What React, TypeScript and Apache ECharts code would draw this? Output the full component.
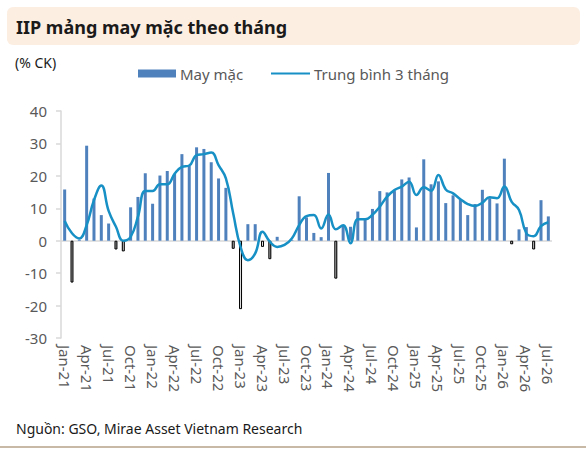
import React, { useEffect, useRef } from "react";
import * as echarts from "echarts";

const months: string[] = [
  "Jan-21","Feb-21","Mar-21","Apr-21","May-21","Jun-21","Jul-21","Aug-21","Sep-21","Oct-21","Nov-21","Dec-21",
  "Jan-22","Feb-22","Mar-22","Apr-22","May-22","Jun-22","Jul-22","Aug-22","Sep-22","Oct-22","Nov-22","Dec-22",
  "Jan-23","Feb-23","Mar-23","Apr-23","May-23","Jun-23","Jul-23","Aug-23","Sep-23","Oct-23","Nov-23","Dec-23",
  "Jan-24","Feb-24","Mar-24","Apr-24","May-24","Jun-24","Jul-24","Aug-24","Sep-24","Oct-24","Nov-24","Dec-24",
  "Jan-25","Feb-25","Mar-25","Apr-25","May-25","Jun-25","Jul-25","Aug-25","Sep-25","Oct-25","Nov-25","Dec-25",
  "Jan-26","Feb-26","Mar-26","Apr-26","May-26","Jun-26","Jul-26",
];

const garmentYoY: number[] = [
  15.8, -12.9, 0.3, 29.3, 13.0, 7.9, 5.3, -2.7, -3.3, 10.3, 13.5, 20.8,
  11.4, 20.1, 21.5, 20.6, 26.7, 23.2, 28.8, 28.3, 24.2, 19.2, 16.3, -2.5,
  -21.1, 5.1, 5.1, -1.9, -5.7, 1.2, 0, 0.2, 13.7, 7.2, 2.4, 1.1,
  20.9, -11.7, 4.8, 4.3, 9.0, 6.6, 9.8, 15.3, 14.9, 15.3, 18.9, 19.5,
  4.1, 25.1, 17.4, 18.3, 11.6, 14.0, 12.8, 7.9, 11.3, 15.7, 13.1, 11.5,
  25.3, -1.1, 3.5, 4.2, -2.7, 12.5, 7.5,
];

const avg3m: number[] = [
  6.1, 2.3, 0.7, 4.8, 12.5, 17.0, 9.2, 4.3, 0.0, 1.2, 7.4, 15.3,
  15.3, 17.4, 17.4, 20.6, 22.8, 23.2, 26.4, 26.7, 27.2, 23.3, 19.2, 8.4,
  -1.9, -6.0, -3.9, 2.8, -0.3, -1.9, -1.3, 0.7, 4.8, 7.6, 7.9, 3.8,
  8.1, 3.5, 4.8, -0.8, 6.6, 6.6, 8.0, 10.5, 13.6, 15.6, 16.7, 18.2,
  14.1, 16.5, 15.4, 20.3, 15.8, 14.6, 12.8, 11.3, 10.7, 11.7, 13.4, 13.1,
  16.7, 12.0, 9.5, 2.3, 1.4, 4.5, 5.7,
];

const yTicks = { min: -30, max: 40, interval: 10 };

const BAR_COLOR = "#4F81BD";
const LINE_COLOR = "#1790C5";
const FONT = "'Noto Sans', 'Open Sans', sans-serif";

export default function App() {
  const ref = useRef<HTMLDivElement>(null);

  useEffect(() => {
    if (!ref.current) return;
    const chart = echarts.init(ref.current, null, { renderer: "svg" });

    const barData = garmentYoY.map((v) =>
      v >= 0
        ? { value: v, itemStyle: { color: BAR_COLOR } }
        : {
            value: v,
            itemStyle: {
              color: new echarts.graphic.LinearGradient(0, 0, 1, 0, [
                { offset: 0, color: "#333" },
                { offset: 0.5, color: "#eeeeee" },
                { offset: 1, color: "#333" },
              ]),
              borderColor: "#000",
              borderWidth: 1,
            },
          }
    );

    chart.setOption({
      animation: false,
      textStyle: { fontFamily: FONT },
      grid: { left: 61, right: 34, top: 111, bottom: 112, containLabel: false },
      xAxis: {
        type: "category",
        data: months,
        axisLine: { show: false, onZero: false },
        axisTick: { show: false },
        axisLabel: {
          interval: 2,
          rotate: -90,
          margin: 7,
          color: "#595959",
          fontSize: 15,
          fontFamily: FONT,
        },
      },
      yAxis: {
        type: "value",
        min: yTicks.min,
        max: yTicks.max,
        interval: yTicks.interval,
        axisLine: { show: true, lineStyle: { color: "#d9d9d9", width: 1.5 } },
        axisTick: { show: true, length: 5, lineStyle: { color: "#d9d9d9", width: 1.5 } },
        splitLine: { show: false },
        axisLabel: { color: "#595959", fontSize: 15, margin: 14, fontFamily: FONT },
      },
      series: [
        {
          name: "May mặc",
          type: "bar",
          data: barData,
          barWidth: 3,
          z: 2,
          markLine: {
            silent: true,
            symbol: ["none", "none"],
            label: { show: false },
            lineStyle: { color: "#d9d9d9", width: 1.5, type: "solid" },
            data: [{ yAxis: 0 }],
            z: 1,
          },
        },
        {
          name: "Trung bình 3 tháng",
          type: "line",
          data: avg3m,
          smooth: 0.45,
          symbol: "none",
          showSymbol: false,
          lineStyle: { color: LINE_COLOR, width: 2.5 },
          itemStyle: { color: LINE_COLOR },
          z: 3,
        },
      ],
      graphic: [
        {
          type: "rect",
          shape: { x: 7, y: 7, width: 573, height: 38, r: 6 },
          style: { fill: "#FDEEE2" },
          silent: true,
        },
        {
          type: "text",
          x: 16,
          y: 27,
          style: {
            text: "IIP mảng may mặc theo tháng",
            fill: "#1a1a1a",
            font: `bold 18px ${FONT}`,
            verticalAlign: "middle",
          },
        },
        {
          type: "text",
          x: 15,
          y: 62,
          style: {
            text: "(% CK)",
            fill: "#1a1a1a",
            font: `14px ${FONT}`,
            verticalAlign: "middle",
          },
        },
        {
          type: "rect",
          shape: { x: 138, y: 69.5, width: 38, height: 8 },
          style: { fill: BAR_COLOR },
        },
        {
          type: "text",
          x: 180,
          y: 73.5,
          style: {
            text: "May mặc",
            fill: "#595959",
            font: `15px ${FONT}`,
            verticalAlign: "middle",
          },
        },
        {
          type: "line",
          shape: { x1: 271, y1: 73.5, x2: 310, y2: 73.5 },
          style: { stroke: LINE_COLOR, lineWidth: 2 },
        },
        {
          type: "text",
          x: 314,
          y: 73.5,
          style: {
            text: "Trung bình 3 tháng",
            fill: "#595959",
            font: `15px ${FONT}`,
            verticalAlign: "middle",
          },
        },
        {
          type: "text",
          x: 16,
          y: 428,
          style: {
            text: "Nguồn: GSO, Mirae Asset Vietnam Research",
            fill: "#1a1a1a",
            font: `14px ${FONT}`,
            verticalAlign: "middle",
          },
        },
        {
          type: "line",
          shape: { x1: 0, y1: 447, x2: 586, y2: 447 },
          style: { stroke: "#C8B8A6", lineWidth: 2 },
        },
      ],
    });

    return () => chart.dispose();
  }, []);

  return (
    <div
      ref={ref}
      style={{ position: "fixed", left: 0, top: 0, width: 586, height: 450, background: "#fff" }}
    />
  );
}
